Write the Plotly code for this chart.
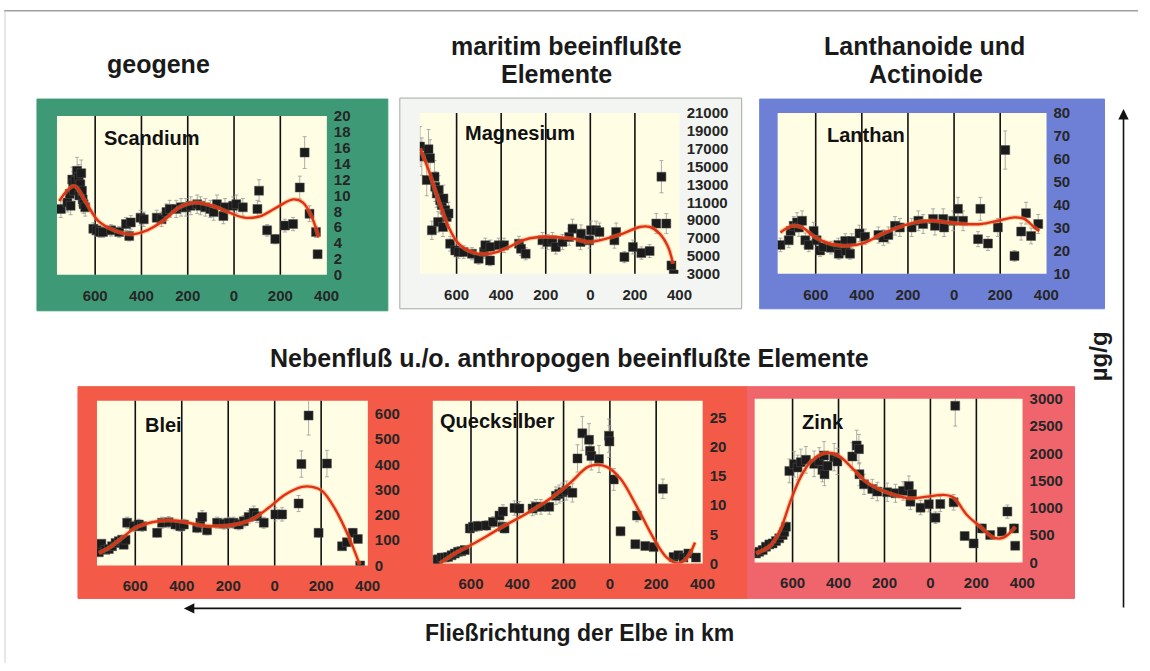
import plotly.graph_objects as go

W, H = 1150, 671

# ---------------- data ----------------
TICK_KM = [-600, -400, -200, 0, 200, 400]          # negative = German Elbe-km, positive = Czech km
TICK_TEXT = ["600", "400", "200", "0", "200", "400"]

# Scandium
KM_SC = [-748, -720, -710, -706, -699, -695, -692, -685, -678, -671, -668, -664, -660, -657, -654, -650, -643,
         -608, -594, -580, -566, -531, -496, -467, -453, -446, -404, -390, -334, -313, -292, -278, -250,
         -229, -208, -187, -159, -145, -124, -102, -88, -74, -46, -39, -4, 10, 38, 101, 108, 143, 178,
         220, 255, 284, 305, 326, 354, 361]
SC = [8.3, 9.1, 10.2, 8.7, 12.0, 11.5, 10.6, 11.8, 13.1, 12.3, 10.0, 11.4, 12.8, 10.6, 9.5, 8.9, 8.5,
      5.8, 5.6, 5.4, 5.4, 5.6, 5.4, 6.4, 4.9, 6.6, 7.2, 7.0, 7.2, 7.0, 7.9, 8.3, 8.3,
      8.5, 8.5, 8.7, 8.9, 8.7, 8.5, 8.3, 7.9, 8.9, 7.4, 8.5, 8.7, 8.9, 8.5, 8.3, 10.6, 5.6, 4.5,
      6.2, 6.4, 11.0, 15.4, 7.7, 5.4, 2.6]
FIT_KM_SC = [-755, -692, -643, -587, -517, -446, -376, -306, -236, -166, -95, -25, 45, 115, 185, 255, 298, 340, 365]
FIT_SC = [9.3, 11.2, 9.3, 6.8, 5.6, 5.1, 5.6, 6.8, 8.5, 9.1, 8.7, 7.9, 7.2, 7.4, 8.5, 9.5, 9.1, 7.0, 4.7]

# Magnesium
KM_MG = [-764, -756, -734, -726, -719, -711, -699, -696, -689, -683, -681, -674, -666, -661, -659, -651, -644,
         -636, -629, -606, -591, -568, -531, -501, -477, -471, -450, -448, -411, -387, -320, -311, -290,
         -215, -192, -170, -155, -125, -95, -80, -44, -42, -5, 3, 26, 41, 108, 116, 153, 191, 229, 266,
         296, 319, 341, 364, 374]
MG = [17250, 16125, 13500, 16950, 15940, 7875, 13875, 12750, 12000, 8810, 12375, 11250, 10690, 8250, 11440,
      10125, 9375, 9750, 6375, 5625, 5440, 5440, 5250, 4690, 5440, 6190, 4500, 6000, 6190, 6190, 6375,
      5810, 5250, 6750, 6560, 6750, 6000, 6560, 7125, 8060, 6560, 7500, 6750, 7875, 7875, 7690, 6750,
      7690, 4875, 6000, 5325, 5550, 8625, 13875, 8625, 3940, 2925]
FIT_KM_MG = [-764, -726, -681, -636, -591, -531, -456, -380, -305, -230, -155, -80, -5, 71, 146, 221, 266, 311, 349, 371]
FIT_MG = [17060, 14625, 11250, 8250, 6375, 5440, 5250, 5810, 6750, 7125, 7125, 6940, 6560, 6940, 7500, 8250,
          8250, 7500, 6000, 4125]

# Lanthan
KM_LA = [-753, -717, -709, -695, -681, -673, -659, -645, -630, -609, -596, -581, -567, -534, -502, -500,
         -472, -470, -451, -444, -410, -386, -328, -306, -285, -256, -235, -184, -155, -134, -91, -83,
         -47, -43, -4, 17, 39, 104, 114, 147, 190, 222, 262, 291, 312, 334, 365]
LA = [22.6, 24.6, 28.7, 30.9, 32.4, 30.2, 33.1, 24.6, 22.6, 28.7, 24.6, 20.2, 21.7, 21.4, 22.6, 18.8,
      24.3, 20.0, 18.8, 24.3, 27.6, 26.1, 26.9, 25.8, 26.9, 30.9, 30.2, 30.2, 33.1, 31.7, 33.9, 30.9,
      33.9, 30.2, 33.1, 38.3, 33.1, 25.1, 38.3, 23.2, 30.2, 63.9, 17.8, 28.4, 36.4, 26.5, 31.7]
FIT_KM_LA = [-753, -702, -659, -601, -529, -458, -386, -314, -242, -170, -98, -26, 46, 118, 190, 262, 305, 348, 370]
FIT_LA = [28.0, 30.9, 30.2, 25.8, 22.9, 22.2, 23.6, 27.3, 30.2, 32.4, 33.1, 32.4, 31.7, 31.7, 33.1, 34.6,
          33.9, 30.2, 28.7]

# Blei
KM_PB = [-757, -746, -728, -714, -700, -685, -671, -657, -650, -642, -635, -606, -585, -571, -506, -485,
         -456, -427, -406, -391, -334, -320, -312, -291, -248, -219, -198, -177, -155, -133, -112, -90,
         -76, -47, 3, 32, 103, 115, 146, 189, 225, 290, 311, 336, 358, 368]
PB = [52, 86, 62, 65, 76, 89, 96, 102, 82, 102, 169, 155, 162, 155, 129, 169, 171, 162, 155, 162, 149,
      169, 192, 139, 169, 165, 169, 169, 162, 175, 192, 208, 195, 169, 202, 202, 245, 401, 593, 129, 403,
      76, 92, 129, 105, 0]
FIT_KM_PB = [-757, -714, -657, -599, -528, -456, -384, -312, -241, -169, -97, -26, 46, 118, 161, 204, 261, 318, 366]
FIT_PB = [49, 69, 109, 149, 171, 179, 171, 158, 155, 162, 182, 228, 281, 311, 311, 295, 222, 115, 3]

# Quecksilber
KM_HG = [-756, -742, -727, -713, -699, -684, -670, -656, -642, -627, -605, -591, -570, -534, -505, -477,
         -464, -462, -455, -412, -391, -334, -319, -298, -262, -233, -219, -205, -188, -162, -140, -119,
         -90, -86, -80, -47, -4, -2, 17, 46, 110, 117, 153, 189, 229, 275, 296, 318, 339, 372]
HG = [0.6, 0.7, 1.0, 1.0, 1.1, 1.4, 1.7, 2.0, 2.1, 2.3, 6.0, 6.3, 6.4, 6.5, 7.1, 8.2, 6.3, 8.9, 6.0, 9.5,
      9.4, 9.4, 9.7, 9.7, 9.7, 11.6, 11.9, 12.2, 12.5, 12.1, 18.0, 22.3, 21.2, 19.3, 18.4, 17.9, 21.9,
      20.9, 14.4, 5.5, 3.3, 8.2, 3.0, 2.8, 12.8, 1.1, 1.4, 1.0, 1.7, 1.0]
FIT_KM_HG = [-734, -670, -598, -527, -455, -384, -312, -241, -169, -97, -54, -11, 46, 117, 189, 246, 296, 332, 368]
FIT_HG = [0.0, 1.7, 3.2, 4.8, 6.5, 8.0, 9.7, 11.6, 13.9, 16.5, 16.9, 16.5, 14.5, 9.7, 4.3, 1.0, 0.0, 0.9, 3.6]

# Zink
KM_ZN = [-759, -745, -730, -716, -701, -687, -672, -658, -643, -636, -629, -614, -593, -578, -564, -542,
         -506, -484, -470, -463, -461, -448, -419, -405, -340, -321, -311, -309, -289, -253, -231, -188,
         -152, -119, -94, -87, -80, -43, -7, 22, 43, 101, 108, 149, 188, 224, 260, 311, 335, 364, 369]
ZN = [165, 196, 227, 288, 331, 349, 392, 441, 502, 563, 655, 1677, 1800, 1739, 1837, 1879, 1806, 1861,
      1696, 1959, 1616, 1769, 1928, 1849, 1941, 2143, 2075, 1616, 1432, 1347, 1298, 1286, 1267, 1310,
      1402, 1114, 1249, 1004, 1065, 820, 1071, 1102, 2871, 484, 349, 624, 502, 563, 931, 624, 306]
FIT_KM_ZN = [-759, -694, -651, -607, -564, -520, -463, -405, -347, -289, -231, -159, -87, -14, 58, 101, 159,
             217, 275, 318, 354, 369]
FIT_ZN = [165, 318, 624, 1145, 1573, 1849, 2002, 1971, 1757, 1512, 1359, 1237, 1175, 1206, 1237, 1188, 869,
          655, 453, 453, 576, 655]

NAMES = ["Scandium", "Magnesium", "Lanthan", "Blei", "Quecksilber", "Zink"]
Y_TICKS = [
    list(range(0, 21, 2)),
    list(range(3000, 21001, 2000)),
    list(range(10, 81, 10)),
    list(range(0, 601, 100)),
    list(range(0, 26, 5)),
    list(range(0, 3001, 500)),
]

# ---------------- layout geometry (target pixels -> paper) ----------------
SX, SY, OY = 0.99, 0.976, 7.8   # empirical correction observed in the rendered picture


def px_x(p):
    return (p / SX) / W


def px_y(p):
    return 1 - ((p - OY) / SY) / H


PLOT_BOX = [  # x0, x1, y0(top), y1(bottom)
    (57, 327, 115, 274),
    (420, 680, 112, 273),
    (778, 1047, 112, 273),
    (97, 368, 400, 565),
    (433, 703, 400, 563),
    (755, 1023, 398, 562),
]
Y_RANGE = [[0, 20], [3000, 21000], [10, 80], [0, 652], [0, 27.9], [0, 3000]]
LABEL_POS = [(102, 137), (463, 132), (825, 134), (143, 424), (438, 420), (800, 421)]

SERIES = [
    (KM_SC, SC, FIT_KM_SC, FIT_SC),
    (KM_MG, MG, FIT_KM_MG, FIT_MG),
    (KM_LA, LA, FIT_KM_LA, FIT_LA),
    (KM_PB, PB, FIT_KM_PB, FIT_PB),
    (KM_HG, HG, FIT_KM_HG, FIT_HG),
    (KM_ZN, ZN, FIT_KM_ZN, FIT_ZN),
]

FONT = "Arial, Liberation Sans, sans-serif"
TICKFONT = dict(family=FONT, size=15, color="#262626", weight="bold")
INNER_BG = "#fffde4"

fig = go.Figure()
layout = dict(
    width=W, height=H, margin=dict(l=0, r=0, t=0, b=0),
    paper_bgcolor="white", plot_bgcolor=INNER_BG,
    showlegend=False, font=dict(family=FONT),
)
shapes = []
annotations = []

# panel backgrounds
PANEL_BG = [
    (37, 388, 98, 310, "#3e9a76", "#3e9a76"),
    (400, 742, 97, 308, "#f2f5f1", "#a4aaa4"),
    (760, 1105, 98, 308, "#6e80d6", "#6e80d6"),
    (78, 748, 386, 598, "#f35a48", "#f35a48"),
    (748, 1075, 386, 598, "#f0646c", "#f0646c"),
]
for x0, x1, y0, y1, fc, lc in PANEL_BG:
    shapes.append(dict(type="rect", xref="paper", yref="paper", x0=px_x(x0), x1=px_x(x1),
                       y0=px_y(y1), y1=px_y(y0), fillcolor=fc, line=dict(color=lc, width=1), layer="below"))

# page frame lines
shapes.append(dict(type="line", xref="paper", yref="paper", x0=px_x(4), x1=1, y0=px_y(9.5), y1=px_y(9.5),
                   line=dict(color="#a0a0a0", width=1.5)))
shapes.append(dict(type="line", xref="paper", yref="paper", x0=px_x(5), x1=px_x(5), y0=0, y1=px_y(9.5),
                   line=dict(color="#d0d0d0", width=1)))

for i in range(6):
    n = "" if i == 0 else str(i + 1)
    xa, ya = "x" + n, "y" + n
    x0, x1, y0, y1 = PLOT_BOX[i]
    km, val, fkm, fval = SERIES[i]
    # cream plotting area on top of the coloured panel
    shapes.append(dict(type="rect", xref=xa + " domain", yref=ya + " domain", x0=0, x1=1, y0=0, y1=1,
                       fillcolor=INNER_BG, line=dict(width=0), layer="below"))
    layout["xaxis" + n] = dict(
        domain=[px_x(x0), px_x(x1)], anchor=ya, range=[-765, 401],
        tickvals=TICK_KM, ticktext=TICK_TEXT, showgrid=False, zeroline=False,
        showline=False, ticks="", tickfont=TICKFONT, ticklabelstandoff=10, fixedrange=True,
    )
    layout["yaxis" + n] = dict(
        domain=[px_y(y1), px_y(y0)], anchor=xa, range=Y_RANGE[i], side="right",
        tickvals=Y_TICKS[i], tickformat="d", showgrid=False, zeroline=False, showline=False, ticks="",
        tickfont=TICKFONT, ticklabelstandoff=6, fixedrange=True,
    )
    # vertical black lines at the km ticks (not at the right-most tick)
    for k in TICK_KM[:-1]:
        shapes.append(dict(type="line", xref=xa, yref=ya + " domain", x0=k, x1=k, y0=0, y1=1,
                           line=dict(color="#111111", width=1.6), layer="below"))
    fig.add_trace(go.Scatter(
        x=km, y=val, mode="markers", xaxis=xa, yaxis=ya,
        marker=dict(symbol="square", size=9, color="#1b1b1b", line=dict(color="#555555", width=0.5)),
        error_y=dict(type="percent", value=13, color="#9a9a9a", thickness=0.8, width=2),
    ))
    fig.add_trace(go.Scatter(
        x=fkm, y=fval, mode="lines", xaxis=xa, yaxis=ya,
        line=dict(color="rgba(255,150,60,0.45)", width=4.5, shape="spline", smoothing=1.0),
    ))
    fig.add_trace(go.Scatter(
        x=fkm, y=fval, mode="lines", xaxis=xa, yaxis=ya,
        line=dict(color="#e0301c", width=2.4, shape="spline", smoothing=1.0),
    ))
    lx, ly = LABEL_POS[i]
    annotations.append(dict(text=NAMES[i], xref="paper", yref="paper", x=px_x(lx), y=px_y(ly),
                            xanchor="left", yanchor="middle", showarrow=False,
                            font=dict(family=FONT, size=20, color="#111111", weight="bold")))

TITLE_FONT = dict(family=FONT, size=25, color="#1a1a1a", weight="bold")
for text, cx, cy in [
    ("geogene", 159, 63),
    ("maritim beeinflußte", 567, 45),
    ("Elemente", 557, 73),
    ("Lanthanoide und", 925, 45),
    ("Actinoide", 926, 73),
]:
    annotations.append(dict(text=text, xref="paper", yref="paper", x=px_x(cx), y=px_y(cy),
                            xanchor="center", yanchor="middle", showarrow=False, font=TITLE_FONT))

annotations.append(dict(text="Nebenfluß u./o. anthropogen beeinflußte Elemente", xref="paper", yref="paper",
                        x=px_x(570), y=px_y(357), xanchor="center", yanchor="middle", showarrow=False,
                        font=dict(family=FONT, size=25, color="#1a1a1a", weight="bold")))
annotations.append(dict(text="Fließrichtung der Elbe in km", xref="paper", yref="paper",
                        x=px_x(580), y=px_y(633), xanchor="center", yanchor="middle", showarrow=False,
                        font=dict(family=FONT, size=23, color="#1a1a1a", weight="bold")))
annotations.append(dict(text="µg/g", xref="paper", yref="paper", x=px_x(1099), y=px_y(356),
                        xanchor="center", yanchor="middle", showarrow=False, textangle=-90,
                        font=dict(family=FONT, size=24, color="#1a1a1a", weight="bold")))

# arrows
annotations.append(dict(text="", xref="paper", yref="paper", x=px_x(1124), y=px_y(108),
                        ax=0, ay=(596 - 108) / SY, axref="pixel", ayref="pixel", showarrow=True,
                        arrowhead=2, arrowsize=1.3, arrowwidth=1.6, arrowcolor="#111111"))
annotations.append(dict(text="", xref="paper", yref="paper", x=px_x(184), y=px_y(608),
                        ax=(955 - 184) / SX, ay=0, axref="pixel", ayref="pixel", showarrow=True,
                        arrowhead=2, arrowsize=1.3, arrowwidth=1.6, arrowcolor="#111111"))

layout["shapes"] = shapes
layout["annotations"] = annotations
fig.update_layout(**layout)

fig.write_html("out.html")
